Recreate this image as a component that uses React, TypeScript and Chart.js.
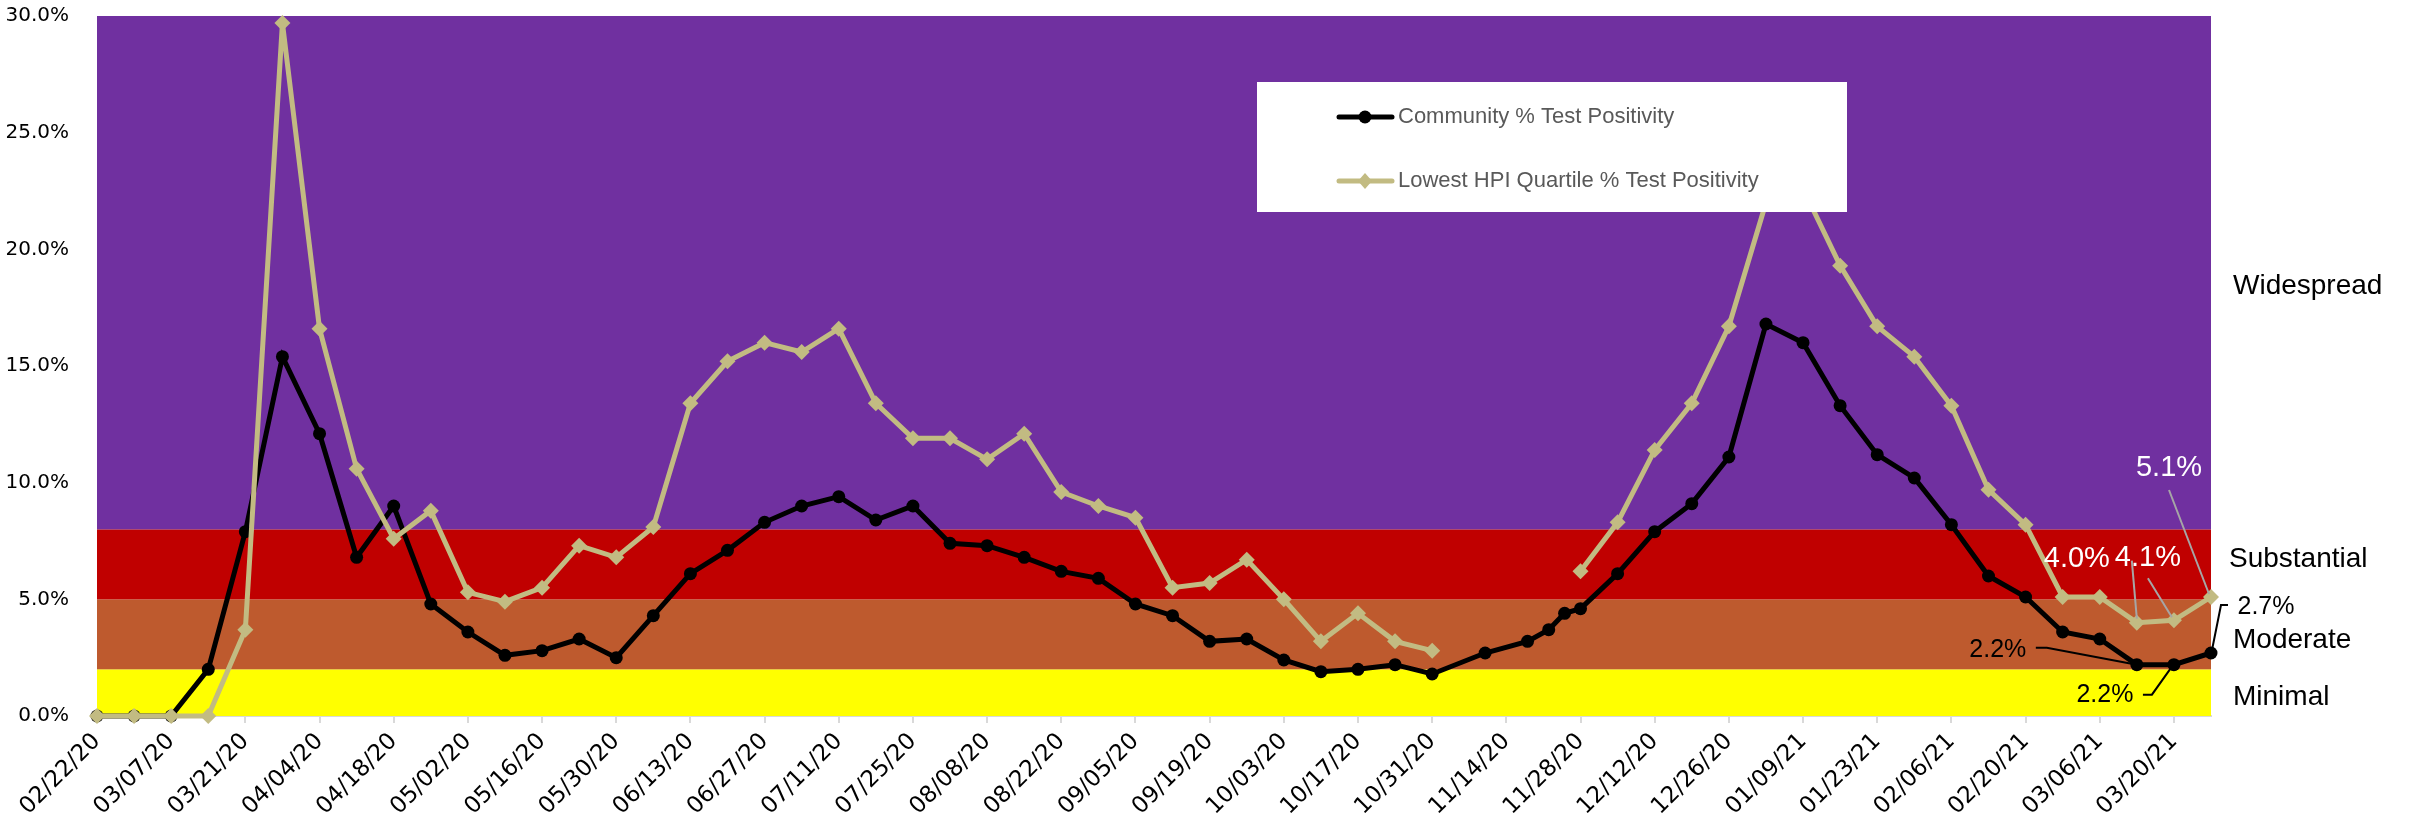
import React, { useEffect, useRef } from 'react';
import { Chart, registerables } from 'chart.js';

Chart.register(...registerables);

// ---------- data ----------
const dates: string[] = [
  '02/22/20', '02/29/20', '03/07/20', '03/14/20', '03/21/20', '03/28/20', '04/04/20', '04/11/20', '04/18/20', '04/25/20',
  '05/02/20', '05/09/20', '05/16/20', '05/23/20', '05/30/20', '06/06/20', '06/13/20', '06/20/20', '06/27/20', '07/04/20',
  '07/11/20', '07/18/20', '07/25/20', '08/01/20', '08/08/20', '08/15/20', '08/22/20', '08/29/20', '09/05/20', '09/12/20',
  '09/19/20', '09/26/20', '10/03/20', '10/10/20', '10/17/20', '10/24/20', '10/31/20',
  '11/10/20', '11/18/20', '11/22/20', '11/25/20', '11/28/20',
  '12/05/20', '12/12/20', '12/19/20', '12/26/20', '01/02/21', '01/09/21', '01/16/21', '01/23/21', '01/30/21', '02/06/21',
  '02/13/21', '02/20/21', '02/27/21', '03/06/21', '03/13/21', '03/20/21', '03/27/21',
];

const community: (number | null)[] = [
  0, 0, 0, 2.0, 7.9, 15.4, 12.1, 6.8, 9.0, 4.8,
  3.6, 2.6, 2.8, 3.3, 2.5, 4.3, 6.1, 7.1, 8.3, 9.0,
  9.4, 8.4, 9.0, 7.4, 7.3, 6.8, 6.2, 5.9, 4.8, 4.3,
  3.2, 3.3, 2.4, 1.9, 2.0, 2.2, 1.8,
  2.7, 3.2, 3.7, 4.4, 4.6,
  6.1, 7.9, 9.1, 11.1, 16.8, 16.0, 13.3, 11.2, 10.2, 8.2,
  6.0, 5.1, 3.6, 3.3, 2.2, 2.2, 2.7,
];

const lowestHpi: (number | null)[] = [
  0, 0, 0, 0, 3.7, 29.7, 16.6, 10.6, 7.6, 8.8,
  5.3, 4.9, 5.5, 7.3, 6.8, 8.1, 13.4, 15.2, 16.0, 15.6,
  16.6, 13.4, 11.9, 11.9, 11.0, 12.1, 9.6, 9.0, 8.5, 5.5,
  5.7, 6.7, 5.0, 3.2, 4.4, 3.2, 2.8,
  null, null, null, null, 6.2,
  8.3, 11.4, 13.4, 16.7, 22.0, 22.6, 19.3, 16.7, 15.4, 13.3,
  9.7, 8.2, 5.1, 5.1, 4.0, 4.1, 5.1,
];

const tickLabels: string[] = [
  '02/22/20', '03/07/20', '03/21/20', '04/04/20', '04/18/20', '05/02/20', '05/16/20', '05/30/20',
  '06/13/20', '06/27/20', '07/11/20', '07/25/20', '08/08/20', '08/22/20', '09/05/20', '09/19/20',
  '10/03/20', '10/17/20', '10/31/20', '11/14/20', '11/28/20', '12/12/20', '12/26/20', '01/09/21',
  '01/23/21', '02/06/21', '02/20/21', '03/06/21', '03/20/21',
];

const seriesNames = ['Community % Test Positivity', 'Lowest HPI Quartile % Test Positivity'];

const bandEdges = [0, 2, 5, 8, 30];
const bandColors = ['#FFFF00', '#BE5A2E', '#C00000', '#7030A0'];
const zoneNames = ['Minimal', 'Moderate', 'Substantial', 'Widespread'];
const zoneLabelValues = [0.8, 3.25, 6.7, 18.4];

// ---------- helpers ----------
const toDay = (s: string) => {
  const [m, d, y] = s.split('/').map(Number);
  return Math.round((Date.UTC(2000 + y, m - 1, d) - Date.UTC(2020, 1, 22)) / 86400000);
};
const dayNums = dates.map(toDay);
const tickDays = tickLabels.map(toDay);

const BLACK = '#000000';
const GOLD = '#C2BB82';
const FONT_AXIS = '"DejaVu Sans", Verdana, sans-serif';
const FONT_TEXT = '"Liberation Sans", Arial, sans-serif';

const bandsPlugin = {
  id: 'bands',
  beforeDatasetsDraw(chart: any) {
    const { ctx, chartArea, scales } = chart;
    const y = scales.y;
    ctx.save();
    for (let i = 0; i < bandColors.length; i++) {
      const top = y.getPixelForValue(bandEdges[i + 1]);
      const bot = y.getPixelForValue(bandEdges[i]);
      ctx.fillStyle = bandColors[i];
      ctx.fillRect(chartArea.left, top, chartArea.right - chartArea.left, bot - top);
    }
    ctx.restore();
  },
};

const drawLabel = (ctx: any, text: string, x: number, y: number, color: string, size: number) => {
  ctx.fillStyle = color;
  ctx.font = `${size}px ${FONT_TEXT}`;
  ctx.textAlign = 'center';
  ctx.textBaseline = 'middle';
  ctx.fillText(text, x, y);
};

const leader = (ctx: any, pts: number[][], color: string) => {
  ctx.strokeStyle = color;
  ctx.lineWidth = 2;
  ctx.beginPath();
  ctx.moveTo(pts[0][0], pts[0][1]);
  for (let i = 1; i < pts.length; i++) ctx.lineTo(pts[i][0], pts[i][1]);
  ctx.stroke();
};

const annotPlugin = {
  id: 'annot',
  afterDatasetsDraw(chart: any) {
    const { ctx, chartArea, scales } = chart;
    const x = scales.x;
    const y = scales.y;
    const n = dates.length;
    const P = (i: number, arr: (number | null)[]) => [x.getPixelForValue(dayNums[i]), y.getPixelForValue(arr[i] as number)];
    const fmt = (v: number | null) => (v as number).toFixed(1) + '%';
    ctx.save();

    // gold labels (white text, gray leaders)
    const g1 = P(n - 3, lowestHpi), g2 = P(n - 2, lowestHpi), g3 = P(n - 1, lowestHpi);
    leader(ctx, [[g1[0] - 5, g1[1] - 62], [g1[0], g1[1] - 4]], '#A6A6A6');
    leader(ctx, [[g2[0] - 26, g2[1] - 42], [g2[0] - 2, g2[1] - 3]], '#A6A6A6');
    leader(ctx, [[g3[0] - 42, g3[1] - 107], [g3[0] - 2, g3[1] - 3]], '#A6A6A6');
    drawLabel(ctx, fmt(lowestHpi[n - 3]), g1[0] - 60, g1[1] - 64, '#FFFFFF', 29);
    drawLabel(ctx, fmt(lowestHpi[n - 2]), g2[0] - 26, g2[1] - 62, '#FFFFFF', 29);
    drawLabel(ctx, fmt(lowestHpi[n - 1]), g3[0] - 42, g3[1] - 129, '#FFFFFF', 29);

    // black labels
    const b1 = P(n - 3, community), b2 = P(n - 2, community), b3 = P(n - 1, community);
    leader(ctx, [[b1[0] - 101, b1[1] - 17], [b1[0] - 90, b1[1] - 17], [b1[0], b1[1]]], '#000000');
    leader(ctx, [[b2[0] - 31, b2[1] + 30], [b2[0] - 22, b2[1] + 30], [b2[0] - 2, b2[1] + 2]], '#000000');
    leader(ctx, [[b3[0] + 17, b3[1] - 48], [b3[0] + 10, b3[1] - 48], [b3[0] + 1, b3[1] - 3]], '#000000');
    drawLabel(ctx, fmt(community[n - 3]), b1[0] - 139, b1[1] - 15, '#000000', 25);
    drawLabel(ctx, fmt(community[n - 2]), b2[0] - 69, b2[1] + 30, '#000000', 25);
    drawLabel(ctx, fmt(community[n - 1]), b3[0] + 55, b3[1] - 46, '#000000', 25);

    // zone names on the right
    ctx.fillStyle = '#000000';
    ctx.font = `28px ${FONT_TEXT}`;
    ctx.textAlign = 'left';
    ctx.textBaseline = 'middle';
    zoneNames.forEach((name, i) => {
      const dx = name === 'Substantial' ? 18 : 22;
      ctx.fillText(name, chartArea.right + dx, y.getPixelForValue(zoneLabelValues[i]));
    });

    // legend box
    const bx = 1257, by = 82, bw = 590, bh = 130;
    ctx.fillStyle = '#FFFFFF';
    ctx.fillRect(bx, by, bw, bh);
    const rows = [
      { y: by + 35, color: BLACK, style: 'circle' },
      { y: by + 99, color: GOLD, style: 'diamond' },
    ];
    rows.forEach((r, i) => {
      ctx.strokeStyle = r.color;
      ctx.lineWidth = 5;
      ctx.lineCap = 'round';
      ctx.beginPath();
      ctx.moveTo(bx + 82, r.y);
      ctx.lineTo(bx + 135, r.y);
      ctx.stroke();
      ctx.fillStyle = r.color;
      const cx = bx + 108;
      ctx.beginPath();
      if (r.style === 'circle') {
        ctx.arc(cx, r.y, 6.5, 0, Math.PI * 2);
      } else {
        ctx.moveTo(cx, r.y - 8);
        ctx.lineTo(cx + 7, r.y);
        ctx.lineTo(cx, r.y + 8);
        ctx.lineTo(cx - 7, r.y);
        ctx.closePath();
      }
      ctx.fill();
      ctx.fillStyle = '#595959';
      ctx.font = `22px ${FONT_TEXT}`;
      ctx.textAlign = 'left';
      ctx.textBaseline = 'middle';
      ctx.fillText(chart.data.datasets[i].label, bx + 141, r.y);
    });
    ctx.restore();
  },
};

export default function App() {
  const ref = useRef<HTMLCanvasElement | null>(null);

  useEffect(() => {
    if (!ref.current) return;
    const chart = new Chart(ref.current, {
      type: 'line',
      data: {
        datasets: [
          {
            label: seriesNames[0],
            data: dayNums.map((d, i) => ({ x: d, y: community[i] })) as any,
            borderColor: BLACK,
            backgroundColor: BLACK,
            borderWidth: 5,
            pointRadius: 6.5,
            pointBorderWidth: 0,
            pointStyle: 'circle',
            tension: 0,
            clip: false as any,
            order: 2,
          },
          {
            label: seriesNames[1],
            data: dayNums.map((d, i) => ({ x: d, y: lowestHpi[i] })) as any,
            borderColor: GOLD,
            backgroundColor: GOLD,
            borderWidth: 5,
            pointRadius: 8,
            pointBorderWidth: 0,
            pointStyle: 'rectRot',
            tension: 0,
            spanGaps: false,
            clip: false as any,
            order: 1,
          },
        ],
      },
      options: {
        animation: false,
        responsive: false,
        devicePixelRatio: 1,
        layout: { padding: { left: 0, right: 198, top: 16, bottom: 0 } },
        plugins: { legend: { display: false }, tooltip: { enabled: false } },
        scales: {
          x: {
            type: 'linear',
            min: 0,
            max: dayNums[dayNums.length - 1],
            afterBuildTicks: (scale: any) => {
              scale.ticks = tickDays.map((v) => ({ value: v }));
            },
            afterFit: (scale: any) => {
              scale.height = 110;
            },
            grid: {
              display: true,
              drawOnChartArea: false,
              drawTicks: true,
              tickLength: 7,
              color: '#D9D9D9',
              lineWidth: 2,
            },
            border: { display: true, color: '#D9D9D9', width: 2 },
            ticks: {
              autoSkip: false,
              maxRotation: 45,
              minRotation: 45,
              padding: 5,
              color: '#000000',
              font: { family: FONT_AXIS, size: 23 },
              callback: (_v: any, i: number) => tickLabels[i],
            },
          },
          y: {
            min: 0,
            max: 30,
            afterFit: (scale: any) => {
              scale.width = 97;
              scale.paddingTop = 8;
              scale.paddingBottom = 8;
            },
            grid: { display: false },
            border: { display: false },
            ticks: {
              stepSize: 5,
              padding: 20,
              color: '#000000',
              font: { family: FONT_AXIS, size: 20 },
              callback: (v: any) => Number(v).toFixed(1) + '%',
            },
          },
        },
      },
      plugins: [bandsPlugin, annotPlugin],
    } as any);
    return () => chart.destroy();
  }, []);

  return (
    <div style={{ position: 'absolute', left: 0, top: 0, width: 2409, height: 826, background: '#FFFFFF' }}>
      <canvas ref={ref} width={2409} height={826} style={{ width: 2409, height: 826, display: 'block' }} />
    </div>
  );
}
